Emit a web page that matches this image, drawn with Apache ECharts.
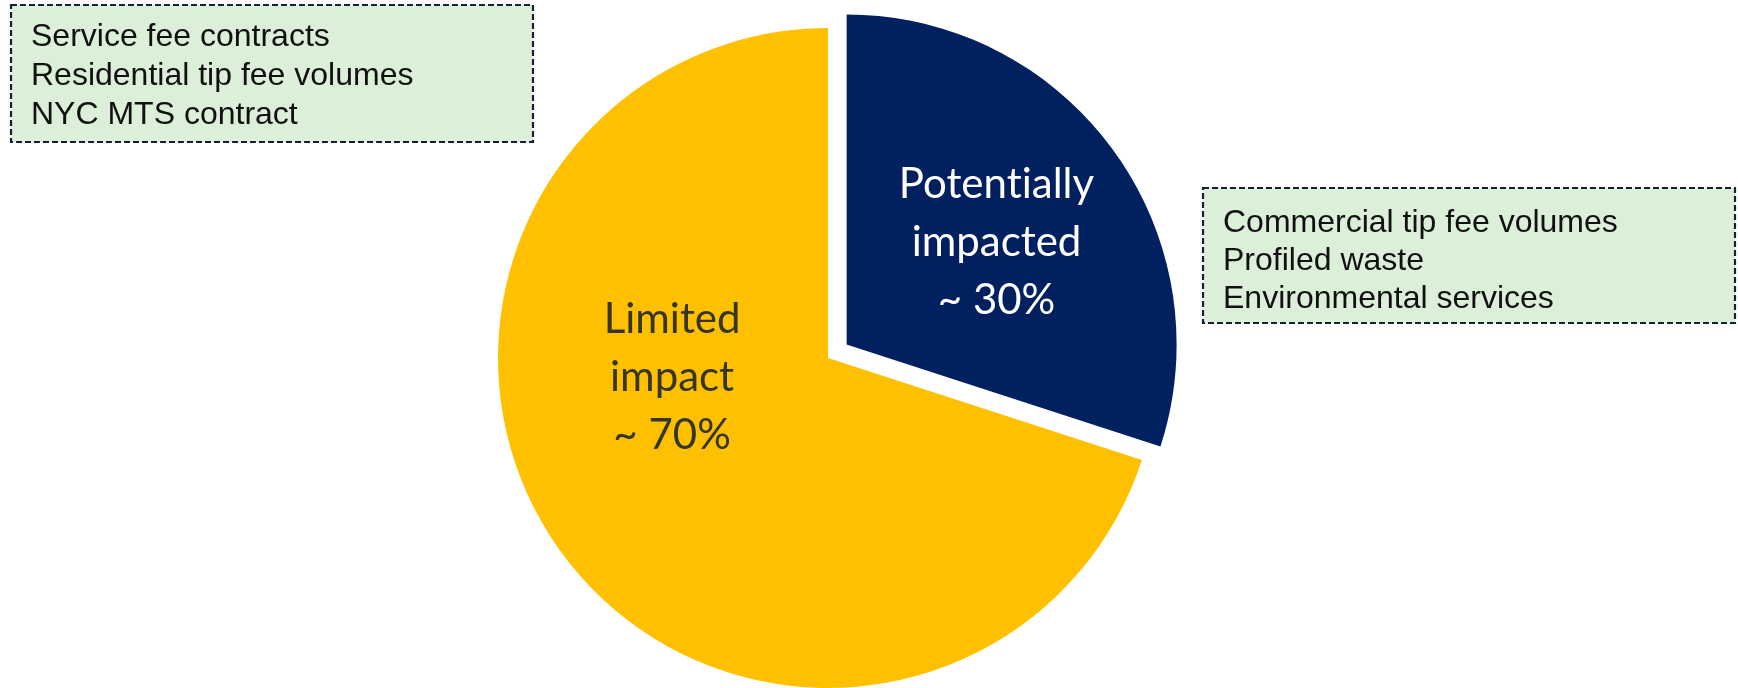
<!DOCTYPE html>
<html>
<head>
<meta charset="utf-8">
<script src="https://cdn.jsdelivr.net/npm/echarts@6/dist/echarts.min.js"></script>
<style>
html,body{margin:0;padding:0;background:#fff;}
#chart{width:1738px;height:688px;}
</style>
</head>
<body>
<div id="chart"></div>
<script>
// ---- data ----
const categories = ['Potentially impacted', 'Limited impact'];
const values = [30, 70];
const sliceColors = ['#002060', '#FFC000'];
const labelColors = ['#ffffff', '#36352a'];
const leftBoxLines = ['Service fee contracts', 'Residential tip fee volumes', 'NYC MTS contract'];
const rightBoxLines = ['Commercial tip fee volumes', 'Profiled waste', 'Environmental services'];

// ---- chart ----
const chart = echarts.init(document.getElementById('chart'), null, {renderer: 'canvas'});

const labelShift = [[14, -3], [-20, -79]];

const pieData = categories.map((c, i) => ({
  name: c,
  value: values[i],
  selected: i === 0,
  itemStyle: {color: sliceColors[i]},
  select: {itemStyle: {color: sliceColors[i]}, label: {color: labelColors[i]}},
  label: {color: labelColors[i]}
}));

const boxStyle = {fill: '#DCEFD8', stroke: '#16203a', lineWidth: 2.2, lineDash: [6, 3]};
const textFont = '32px "Liberation Sans", Arial, sans-serif';

// break the "ti" ligature of the label font with a zero-width non-joiner
const noLig = s => s.replace(/ti/g, 't\u200Ci');

chart.setOption({
  animation: false,
  series: [{
    type: 'pie',
    center: [828, 358],
    radius: 330,
    startAngle: 90,
    clockwise: true,
    selectedMode: 'single',
    selectedOffset: 23,
    silent: true,
    data: pieData,
    itemStyle: {borderWidth: 0},
    emphasis: {scale: false},
    label: {
      show: true,
      position: 'inside',
      fontFamily: 'Lato, "Open Sans", sans-serif',
      fontSize: 42,
      lineHeight: 58,
      align: 'center',
      formatter: p => noLig(p.name.replace(' ', '\n')) + '\n~ ' + p.value + '%'
    },
    labelLine: {show: false},
    labelLayout: p => ({dx: labelShift[p.dataIndex][0], dy: labelShift[p.dataIndex][1]})
  }],
  graphic: [
    {type: 'rect', shape: {x: 11, y: 5, width: 522, height: 137}, style: boxStyle, z: 10},
    {type: 'text', x: 31, y: 18, z: 11,
      style: {text: leftBoxLines.join('\n'), font: textFont, fill: '#111', lineHeight: 39, verticalAlign: 'top'}},
    {type: 'rect', shape: {x: 1203, y: 188, width: 532, height: 135}, style: boxStyle, z: 10},
    {type: 'text', x: 1223, y: 204, z: 11,
      style: {text: rightBoxLines.join('\n'), font: textFont, fill: '#111', lineHeight: 38, verticalAlign: 'top'}}
  ]
});
</script>
</body>
</html>
